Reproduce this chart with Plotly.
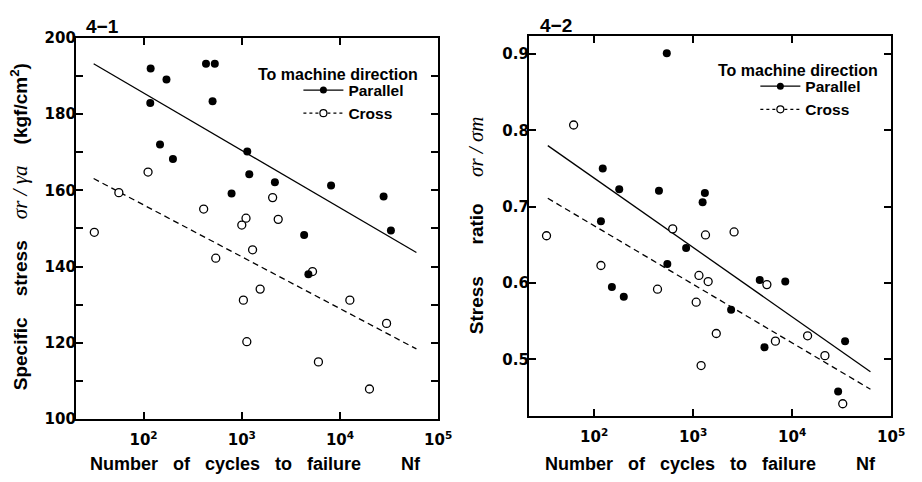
import plotly.graph_objects as go

# ---------------- Panel 4-1 : specific stress vs. cycles to failure ----------------
par1_n = [118, 171, 117, 432, 531, 504, 147, 199, 1137, 1192, 787, 2173, 8110,
          27800, 33000, 4315, 4765]
par1_s = [192.0, 189.1, 182.9, 193.2, 193.2, 183.4, 172.0, 168.2, 170.2, 164.2,
          159.2, 162.1, 161.3, 158.4, 149.5, 148.3, 138.0]
cross1_n = [111, 56, 31.5, 409, 1104, 1000, 2061, 2349, 543, 1288, 1038, 1538,
            1125, 5250, 12600, 29800, 6030, 19960]
cross1_s = [164.8, 159.4, 149.0, 155.1, 152.7, 150.9, 158.1, 152.4, 142.2, 144.4,
            131.2, 134.1, 120.3, 138.7, 131.2, 125.1, 115.0, 107.9]
fit1_n = [31, 60000]
fit1_par = [193.2, 143.7]
fit1_cross = [163.1, 118.4]

# ---------------- Panel 4-2 : stress ratio vs. cycles to failure ----------------
par2_n = [541, 122, 179, 451, 1312, 1245, 117, 848, 548, 151, 199, 2415, 4700,
          8510, 5250, 34200, 29100]
par2_r = [0.901, 0.750, 0.723, 0.721, 0.718, 0.706, 0.681, 0.646, 0.625, 0.595,
          0.582, 0.565, 0.604, 0.602, 0.516, 0.524, 0.458]
cross2_n = [62, 33, 621, 1331, 2588, 117, 436, 1143, 1416, 1072, 1711, 1202,
            5550, 6770, 14300, 21400, 32400]
cross2_r = [0.807, 0.662, 0.671, 0.663, 0.667, 0.623, 0.592, 0.610, 0.602, 0.575,
            0.534, 0.492, 0.598, 0.524, 0.531, 0.505, 0.442]
fit2_n = [34, 61700]
fit2_par = [0.780, 0.484]
fit2_cross = [0.711, 0.461]

# ---------------- tick definitions ----------------
x_tickvals = [100, 1000, 10000, 100000]
x_ticktext = ["10<sup>2</sup>", "10<sup>3</sup>", "10<sup>4</sup>", "10<sup>5</sup>"]
y1_tickvals = [100, 120, 140, 160, 180, 200]
y2_tickvals = [0.5, 0.6, 0.7, 0.8, 0.9]

W, H = 922, 482
SANS = "Liberation Sans"
TICKFONT = dict(family="DejaVu Sans", size=15, color="black", weight="bold")
DASH = "6px,4px"

fig = go.Figure()


def add_panel(xa, ya, legend, n_par, v_par, n_cr, v_cr, fit_n, fit_par, fit_cr):
    fig.add_trace(go.Scatter(x=fit_n, y=fit_par, mode="lines", xaxis=xa, yaxis=ya,
                             line=dict(color="black", width=1.3), showlegend=False,
                             hoverinfo="skip"))
    fig.add_trace(go.Scatter(x=fit_n, y=fit_cr, mode="lines", xaxis=xa, yaxis=ya,
                             line=dict(color="black", width=1.3, dash=DASH),
                             showlegend=False, hoverinfo="skip"))
    fig.add_trace(go.Scatter(x=n_cr, y=v_cr, mode="markers", xaxis=xa, yaxis=ya,
                             marker=dict(symbol="circle", size=8, color="white",
                                         line=dict(color="black", width=1.3)),
                             showlegend=False, name="Cross"))
    fig.add_trace(go.Scatter(x=n_par, y=v_par, mode="markers", xaxis=xa, yaxis=ya,
                             marker=dict(symbol="circle", size=8, color="black",
                                         line=dict(width=0)),
                             showlegend=False, name="Parallel"))
    # legend entries (line + marker samples)
    fig.add_trace(go.Scatter(x=[None], y=[None], mode="lines+markers", name="Parallel",
                             xaxis=xa, yaxis=ya, legend=legend,
                             line=dict(color="black", width=1.3),
                             marker=dict(symbol="circle", size=7, color="black")))
    fig.add_trace(go.Scatter(x=[None], y=[None], mode="lines+markers", name="Cross",
                             xaxis=xa, yaxis=ya, legend=legend,
                             line=dict(color="black", width=1.3, dash="3px,3px"),
                             marker=dict(symbol="circle", size=7, color="white",
                                         line=dict(color="black", width=1.2))))


add_panel("x", "y", "legend", par1_n, par1_s, cross1_n, cross1_s,
          fit1_n, fit1_par, fit1_cross)
add_panel("x2", "y2", "legend2", par2_n, par2_r, cross2_n, cross2_r,
          fit2_n, fit2_par, fit2_cross)

common_axis = dict(showline=True, linecolor="black", linewidth=2, mirror="ticks",
                   ticks="inside", ticklen=7, tickwidth=1.5, tickcolor="black",
                   showgrid=False, zeroline=False, tickfont=TICKFONT)
x_extra = dict(ticklabelstandoff=6)
y_extra = dict(ticklabelstandoff=-5)

LEGFONT = dict(family=SANS, size=15.5, color="black", weight="bold")

fig.update_layout(
    width=W, height=H,
    margin=dict(l=0, r=0, t=0, b=0),
    paper_bgcolor="white", plot_bgcolor="white",
    xaxis=dict(common_axis, **x_extra, type="log", domain=[77 / W, 445 / W],
               range=[1.31, 5.0005], tickvals=x_tickvals, ticktext=x_ticktext,
               anchor="y"),
    yaxis=dict(common_axis, **y_extra, domain=[1 - 426 / H, 1 - 30 / H],
               range=[100, 200], tickvals=y1_tickvals, anchor="x",
               minor=dict(dtick=10, ticks="inside", ticklen=7, tickwidth=1.5,
                          tickcolor="black", showgrid=False)),
    xaxis2=dict(common_axis, **x_extra, type="log", domain=[537 / W, 905 / W],
                range=[1.34, 5.0005], tickvals=x_tickvals, ticktext=x_ticktext,
                anchor="y2"),
    yaxis2=dict(common_axis, **y_extra, domain=[1 - 423 / H, 1 - 28 / H],
                range=[0.4257, 0.9236], tickvals=y2_tickvals, tickformat=".1f",
                anchor="x2"),
    legend=dict(x=303 / W, y=1 - 67 / H, xanchor="left", yanchor="top",
                bgcolor="rgba(0,0,0,0)", borderwidth=0, itemwidth=40,
                font=LEGFONT, tracegroupgap=0),
    legend2=dict(x=767 / W, y=1 - 63 / H, xanchor="left", yanchor="top",
                 bgcolor="rgba(0,0,0,0)", borderwidth=0, itemwidth=40,
                 font=LEGFONT, tracegroupgap=0),
    showlegend=True,
)

SP = "\u00a0"
SERIF = ("<span style='font-family:Liberation Serif;font-weight:normal;"
         "font-style:italic;font-size:21px'>{}</span>")
xtitle = f"Number{SP*3}of{SP*3}cycles{SP*3}to{SP*3}failure{SP*8}Nf"
ytitle_l = (f"Specific{SP*4}stress{SP*4}" + SERIF.format("σr / γa")
            + f"{SP*4}(kgf/cm<sup>2</sup>)")
ytitle_r = f"Stress{SP*6}ratio{SP*5}" + SERIF.format("σr / σm")

annotations = [
    # panel labels
    dict(text="4\u22121", x=85 / W, y=1 - 18 / H, xanchor="left", yanchor="middle",
         font=dict(family=SANS, size=19, weight="bold")),
    dict(text="4\u22122", x=546 / W, y=1 - 17 / H, xanchor="left", yanchor="middle",
         font=dict(family=SANS, size=19, weight="bold")),
    # legend headings
    dict(text="To machine direction", x=260 / W, y=1 - 68 / H, xanchor="left",
         yanchor="middle", font=dict(family=SANS, size=16, weight="bold")),
    dict(text="To machine direction", x=727 / W, y=1 - 64 / H, xanchor="left",
         yanchor="middle", font=dict(family=SANS, size=16, weight="bold")),
    # axis titles
    dict(text=xtitle, x=259 / W, y=1 - 473 / H, xanchor="center", yanchor="middle",
         font=dict(family=SANS, size=18, weight="bold")),
    dict(text=xtitle, x=721 / W, y=1 - 473 / H, xanchor="center", yanchor="middle",
         font=dict(family=SANS, size=18, weight="bold")),
    dict(text=ytitle_l, x=20 / W, y=1 - 226 / H, xanchor="center", yanchor="middle",
         textangle=-90, font=dict(family=SANS, size=19, weight="bold")),
    dict(text=ytitle_r, x=483 / W, y=1 - 225 / H, xanchor="center", yanchor="middle",
         textangle=-90, font=dict(family=SANS, size=19, weight="bold")),
]
for a in annotations:
    a.update(xref="paper", yref="paper", showarrow=False)
    a["font"].setdefault("color", "black")
fig.update_layout(annotations=annotations)

fig.write_html("out.html")
